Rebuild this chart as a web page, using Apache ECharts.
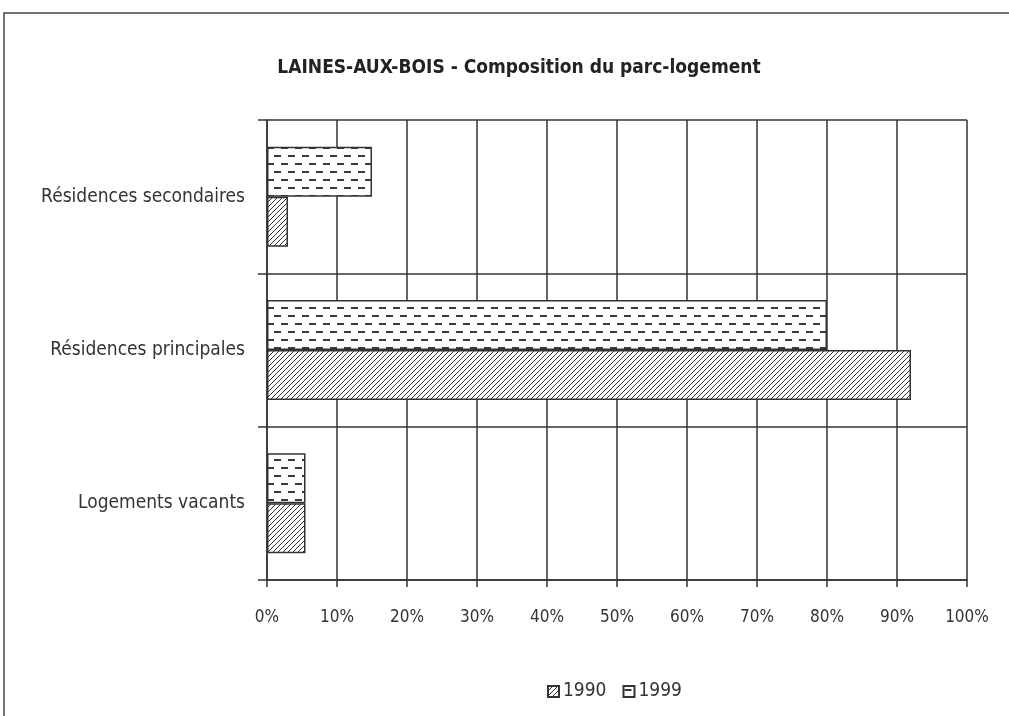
<!DOCTYPE html>
<html>
<head>
<meta charset="utf-8">
<script src="https://cdn.jsdelivr.net/npm/echarts@6/dist/echarts.min.js"></script>
<style>
  html, body { margin: 0; padding: 0; background: #fff; }
  #chart { width: 1009px; height: 716px; }
</style>
</head>
<body>
<div id="chart"></div>
<script>
// data
const categories = ['Résidences secondaires', 'Résidences principales', 'Logements vacants'];
const seriesNames = ['1990', '1999'];
const values1990 = [3, 92, 5.5];
const values1999 = [15, 80, 5.5];

const FONT = '"Liberation Sans Narrow", "DejaVu Sans Condensed", "Liberation Sans", sans-serif';

// diagonal hatch for 1990
function hatchPattern() {
    const c = document.createElement('canvas');
    c.width = 5; c.height = 5;
    const ctx = c.getContext('2d');
    ctx.fillStyle = '#fff';
    ctx.fillRect(0, 0, 5, 5);
    ctx.strokeStyle = '#333';
    ctx.lineWidth = 1;
    ctx.beginPath();
    ctx.moveTo(-1, 6); ctx.lineTo(6, -1);
    ctx.moveTo(-6, 6); ctx.lineTo(1, -1);
    ctx.moveTo(4, 6); ctx.lineTo(11, -1);
    ctx.stroke();
    return c;
}

// staggered horizontal dashes for 1999
function dashPattern() {
    const c = document.createElement('canvas');
    c.width = 14; c.height = 16;
    const ctx = c.getContext('2d');
    ctx.fillStyle = '#fff';
    ctx.fillRect(0, 0, 14, 16);
    ctx.fillStyle = '#3a3a3a';
    ctx.fillRect(1, 3, 7, 2);
    ctx.fillRect(8, 11, 7, 2);
    ctx.fillRect(-6, 11, 7, 2);
    return c;
}

const myChart = echarts.init(document.getElementById('chart'), null, { renderer: 'canvas' });

const option = {
    backgroundColor: '#fff',
    animation: false,
    title: {
        text: 'LAINES-AUX-BOIS - Composition du parc-logement',
        left: 514,
        textAlign: 'center',
        top: 54,
        textStyle: { fontFamily: FONT, fontSize: 19, fontWeight: 'bold', color: '#222' }
    },
    graphic: [{
        type: 'rect',
        shape: { x: 4, y: 13, width: 1020, height: 720 },
        style: { fill: 'none', stroke: '#444', lineWidth: 1.5 },
        silent: true
    }],
    legend: {
        data: seriesNames,
        bottom: 10,
        left: 542,
        itemWidth: 11,
        itemHeight: 11,
        itemGap: 16,
        icon: 'rect',
        textStyle: { fontFamily: FONT, fontSize: 19, color: '#333', padding: [0, 0, 0, -1] }
    },
    grid: { left: 267, right: 42, top: 120, bottom: 136, containLabel: false },
    xAxis: {
        type: 'value',
        min: 0,
        max: 100,
        interval: 10,
        axisLine: { show: true, lineStyle: { color: '#333', width: 1.5 } },
        axisTick: { show: true, length: 7, lineStyle: { color: '#333', width: 1.5 } },
        axisLabel: { formatter: '{value}%', margin: 29, fontFamily: FONT, fontSize: 17, color: '#333' },
        splitLine: { show: true, lineStyle: { color: '#333', width: 1.5 } }
    },
    yAxis: {
        type: 'category',
        inverse: true,
        data: categories,
        axisLine: { show: true, lineStyle: { color: '#333', width: 1.5 } },
        axisTick: { show: true, length: 9, lineStyle: { color: '#333', width: 1.5 } },
        axisLabel: { margin: 22, fontFamily: FONT, fontSize: 19, color: '#333' },
        splitLine: { show: true, lineStyle: { color: '#333', width: 1.5 } }
    },
    series: [
        {
            name: '1999',
            type: 'bar',
            data: values1999,
            barWidth: 50,
            barGap: '0%',
            itemStyle: { color: { image: dashPattern(), repeat: 'repeat' }, borderColor: '#333', borderWidth: 1.5 }
        },
        {
            name: '1990',
            type: 'bar',
            data: values1990,
            barWidth: 50,
            barGap: '0%',
            itemStyle: { color: { image: hatchPattern(), repeat: 'repeat' }, borderColor: '#333', borderWidth: 1.5 }
        }
    ]
};

myChart.setOption(option);
</script>
</body>
</html>
